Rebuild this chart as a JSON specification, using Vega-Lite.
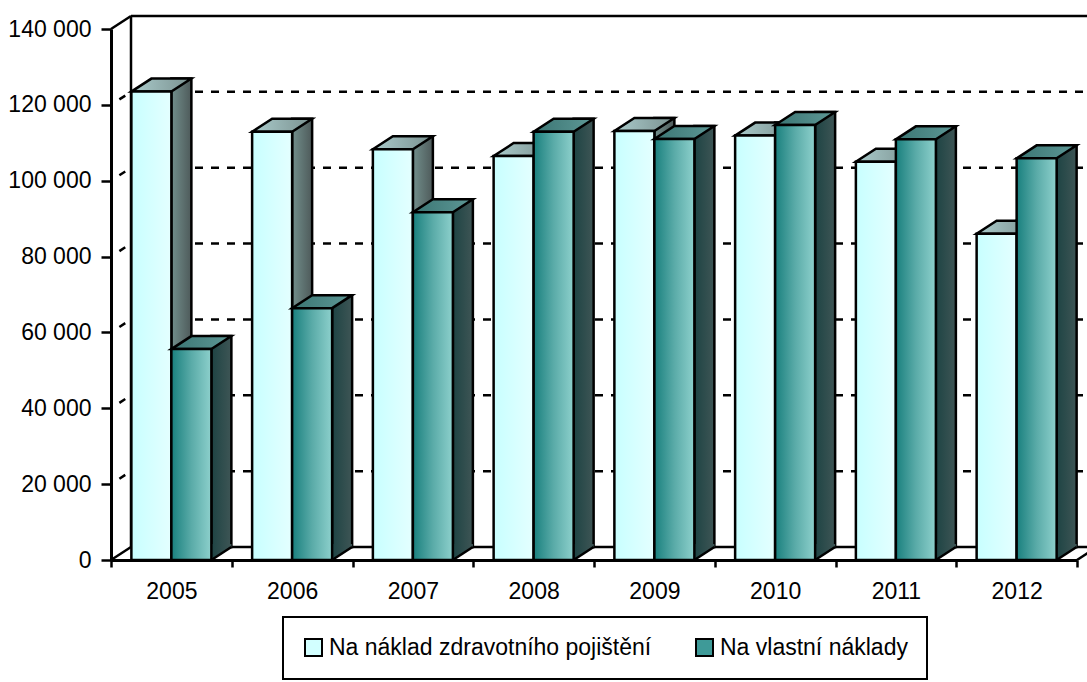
{
  "$schema": "https://vega.github.io/schema/vega-lite/v6.json",
  "width": 966,
  "height": 531,
  "autosize": {"type": "none"},
  "padding": {"left": 111, "top": 29, "right": 10, "bottom": 122},
  "background": "white",
  "datasets": {
    "bars": [
      {"year": "2005", "serie": "Na náklad zdravotního pojištění", "value": 123500},
      {"year": "2005", "serie": "Na vlastní náklady", "value": 55600},
      {"year": "2006", "serie": "Na náklad zdravotního pojištění", "value": 112900},
      {"year": "2006", "serie": "Na vlastní náklady", "value": 66400},
      {"year": "2007", "serie": "Na náklad zdravotního pojištění", "value": 108300},
      {"year": "2007", "serie": "Na vlastní náklady", "value": 91700},
      {"year": "2008", "serie": "Na náklad zdravotního pojištění", "value": 106500},
      {"year": "2008", "serie": "Na vlastní náklady", "value": 112900},
      {"year": "2009", "serie": "Na náklad zdravotního pojištění", "value": 113100},
      {"year": "2009", "serie": "Na vlastní náklady", "value": 111000},
      {"year": "2010", "serie": "Na náklad zdravotního pojištění", "value": 111900},
      {"year": "2010", "serie": "Na vlastní náklady", "value": 114700},
      {"year": "2011", "serie": "Na náklad zdravotního pojištění", "value": 105000},
      {"year": "2011", "serie": "Na vlastní náklady", "value": 110900},
      {"year": "2012", "serie": "Na náklad zdravotního pojištění", "value": 86000},
      {"year": "2012", "serie": "Na vlastní náklady", "value": 105900}
    ],
    "frame": [
      {"x0": 0, "x1": 0, "v0": 0, "v1": 140000},
      {"x0": 0, "x1": 1, "v0": 140000, "v1": 140000},
      {"x0": 0, "x1": 1, "v0": 0, "v1": 0}
    ],
    "grid": [
      {"x0": 0, "x1": 1, "v": 20000},
      {"x0": 0, "x1": 1, "v": 40000},
      {"x0": 0, "x1": 1, "v": 60000},
      {"x0": 0, "x1": 1, "v": 80000},
      {"x0": 0, "x1": 1, "v": 100000},
      {"x0": 0, "x1": 1, "v": 120000}
    ],
    "depth": [
      {"x": 0, "v": 0},
      {"x": 0, "v": 140000},
      {"x": 1, "v": 0}
    ],
    "walldash": [
      {"x": 0, "v": 20000},
      {"x": 0, "v": 40000},
      {"x": 0, "v": 60000},
      {"x": 0, "v": 80000},
      {"x": 0, "v": 100000},
      {"x": 0, "v": 120000}
    ]
  },
  "config": {
    "view": {"stroke": null},
    "font": "Liberation Sans",
    "axis": {
      "labelFont": "Liberation Sans",
      "labelFontSize": 23,
      "labelColor": "black",
      "domainColor": "black",
      "tickColor": "black",
      "domainWidth": 3,
      "tickWidth": 2.5,
      "grid": false,
      "zindex": 1
    },
    "axisY": {
      "labelExpr": "datum.value == 0 ? '0' : format(datum.value / 1000, 'd') + ' 000'",
      "tickSize": 10,
      "labelPadding": 10
    },
    "axisX": {
      "tickBand": "extent",
      "tickSize": 7,
      "labelPadding": 13,
      "labelAngle": 0
    },
    "legend": {
      "orient": "none",
      "legendX": 172,
      "legendY": 588,
      "direction": "horizontal",
      "symbolType": "square",
      "symbolSize": 289,
      "symbolStrokeColor": "black",
      "symbolStrokeWidth": 2,
      "symbolOpacity": 1,
      "labelFont": "Liberation Sans",
      "labelFontSize": 23,
      "labelColor": "black",
      "labelLimit": 0,
      "labelOffset": 4,
      "columnPadding": 40,
      "padding": 19,
      "strokeColor": "black",
      "strokeWidth": 2,
      "title": null
    }
  },
  "resolve": {"scale": {"x": "independent"}},
  "layer": [
    {
      "layer": [
        {
          "data": {"name": "grid"},
          "mark": {"type": "rule", "color": "black", "strokeWidth": 2.5, "strokeDash": [8, 8], "xOffset": 20, "x2Offset": 20, "yOffset": -13, "y2Offset": -13},
          "encoding": {
            "x": {"field": "x0", "type": "quantitative", "scale": {"domain": [0, 1], "nice": false, "zero": false}, "axis": null},
            "x2": {"field": "x1"},
            "y": {"field": "v", "type": "quantitative", "scale": {"domain": [0, 140000]}, "title": null, "axis": {"values": [0, 20000, 40000, 60000, 80000, 100000, 120000, 140000]}},
            "y2": {"field": "v"}
          }
        },
        {
          "data": {"name": "frame"},
          "mark": {"type": "rule", "color": "black", "strokeWidth": 2.5, "xOffset": 20, "x2Offset": 20, "yOffset": -13, "y2Offset": -13},
          "encoding": {
            "x": {"field": "x0", "type": "quantitative", "scale": {"domain": [0, 1], "nice": false, "zero": false}, "axis": null},
            "x2": {"field": "x1"},
            "y": {"field": "v0", "type": "quantitative", "scale": {"domain": [0, 140000]}, "title": null, "axis": {"values": [0, 20000, 40000, 60000, 80000, 100000, 120000, 140000]}},
            "y2": {"field": "v1"}
          }
        },
        {
          "data": {"name": "depth"},
          "mark": {"type": "rule", "color": "black", "strokeWidth": 2.5, "x2Offset": 20, "y2Offset": -13},
          "encoding": {
            "x": {"field": "x", "type": "quantitative", "scale": {"domain": [0, 1], "nice": false, "zero": false}, "axis": null},
            "x2": {"field": "x"},
            "y": {"field": "v", "type": "quantitative", "scale": {"domain": [0, 140000]}, "title": null, "axis": {"values": [0, 20000, 40000, 60000, 80000, 100000, 120000, 140000]}},
            "y2": {"field": "v"}
          }
        },
        {
          "data": {"name": "walldash"},
          "mark": {"type": "rule", "color": "black", "strokeWidth": 2.5, "strokeDash": [7, 40], "strokeDashOffset": -10, "x2Offset": 20, "y2Offset": -13},
          "encoding": {
            "x": {"field": "x", "type": "quantitative", "scale": {"domain": [0, 1], "nice": false, "zero": false}, "axis": null},
            "x2": {"field": "x"},
            "y": {"field": "v", "type": "quantitative", "scale": {"domain": [0, 140000]}, "title": null, "axis": {"values": [0, 20000, 40000, 60000, 80000, 100000, 120000, 140000]}},
            "y2": {"field": "v"}
          }
        }
      ]
    },
    {
      "data": {"name": "bars"},
      "encoding": {
        "x": {"field": "year", "type": "nominal", "title": null, "scale": {"paddingInner": 0, "paddingOuter": 0}},
        "y": {"field": "value", "type": "quantitative", "scale": {"domain": [0, 140000]}, "title": null, "axis": {"values": [0, 20000, 40000, 60000, 80000, 100000, 120000, 140000]}}
      },
      "layer": [
        {
          "mark": {"type": "point", "opacity": 0, "filled": true},
          "encoding": {
            "color": {"field": "serie", "type": "nominal", "sort": ["Na náklad zdravotního pojištění", "Na vlastní náklady"], "scale": {"range": ["#D2FFFF", "#3E9A98"]}, "legend": {"title": null}}
          }
        },
        {
          "transform": [{"filter": "datum.serie == 'Na náklad zdravotního pojištění'"}],
          "mark": {"type": "bar", "width": 20, "xOffset": 10, "yOffset": -13, "y2Offset": -13, "stroke": "black", "strokeWidth": 2.5,
            "fill": {"gradient": "linear", "x1": 0, "y1": 0, "x2": 1, "y2": 0, "stops": [{"offset": 0, "color": "#728F8C"}, {"offset": 1, "color": "#4E5A5A"}]}}
        },
        {
          "transform": [{"filter": "datum.serie == 'Na náklad zdravotního pojištění'"}],
          "mark": {"type": "point", "shape": "M1,0L2,-0.65L2,-0.8L1,-0.8Z", "size": 1600, "xOffset": -20, "filled": true, "opacity": 1, "strokeWidth": 0,
            "fill": {"gradient": "linear", "x1": 0, "y1": 0, "x2": 1, "y2": 0, "stops": [{"offset": 0, "color": "#728F8C"}, {"offset": 1, "color": "#4E5A5A"}]}},
          "encoding": {"y": {"datum": 0, "type": "quantitative"}}
        },
        {
          "transform": [{"filter": "datum.serie == 'Na náklad zdravotního pojištění'"}],
          "mark": {"type": "point", "shape": "M1,0L2,-0.65", "size": 1600, "xOffset": -20, "filled": false, "opacity": 1, "color": "black", "strokeWidth": 2.5},
          "encoding": {"y": {"datum": 0, "type": "quantitative"}}
        },
        {
          "transform": [{"filter": "datum.serie == 'Na náklad zdravotního pojištění'"}],
          "mark": {"type": "point", "shape": "M-1,0L1,0L2,-0.65L0,-0.65Z", "size": 1600, "xOffset": -20, "filled": true, "opacity": 1, "stroke": "black", "strokeWidth": 2.5, "strokeJoin": "miter",
            "fill": {"gradient": "linear", "x1": 0, "y1": 0, "x2": 1, "y2": 0, "stops": [{"offset": 0, "color": "#AACBCB"}, {"offset": 1, "color": "#7A9190"}]}}
        },
        {
          "transform": [{"filter": "datum.serie == 'Na náklad zdravotního pojištění'"}],
          "mark": {"type": "bar", "width": 40, "xOffset": -20, "stroke": "black", "strokeWidth": 2.5,
            "fill": {"gradient": "linear", "x1": 0, "y1": 0, "x2": 1, "y2": 0, "stops": [{"offset": 0, "color": "#C8FFFF"}, {"offset": 1, "color": "#E4FFFF"}]}}
        },
        {
          "transform": [{"filter": "datum.serie == 'Na vlastní náklady'"}],
          "mark": {"type": "bar", "width": 20, "xOffset": 50, "yOffset": -13, "y2Offset": -13, "stroke": "black", "strokeWidth": 2.5,
            "fill": {"gradient": "linear", "x1": 0, "y1": 0, "x2": 1, "y2": 0, "stops": [{"offset": 0, "color": "#1E4444"}, {"offset": 1, "color": "#3E5555"}]}}
        },
        {
          "transform": [{"filter": "datum.serie == 'Na vlastní náklady'"}],
          "mark": {"type": "point", "shape": "M1,0L2,-0.65L2,-0.8L1,-0.8Z", "size": 1600, "xOffset": 20, "filled": true, "opacity": 1, "strokeWidth": 0,
            "fill": {"gradient": "linear", "x1": 0, "y1": 0, "x2": 1, "y2": 0, "stops": [{"offset": 0, "color": "#1E4444"}, {"offset": 1, "color": "#3E5555"}]}},
          "encoding": {"y": {"datum": 0, "type": "quantitative"}}
        },
        {
          "transform": [{"filter": "datum.serie == 'Na vlastní náklady'"}],
          "mark": {"type": "point", "shape": "M1,0L2,-0.65", "size": 1600, "xOffset": 20, "filled": false, "opacity": 1, "color": "black", "strokeWidth": 2.5},
          "encoding": {"y": {"datum": 0, "type": "quantitative"}}
        },
        {
          "transform": [{"filter": "datum.serie == 'Na vlastní náklady'"}],
          "mark": {"type": "point", "shape": "M-1,0L1,0L2,-0.65L0,-0.65Z", "size": 1600, "xOffset": 20, "filled": true, "opacity": 1, "stroke": "black", "strokeWidth": 2.5, "strokeJoin": "miter",
            "fill": {"gradient": "linear", "x1": 0, "y1": 0, "x2": 1, "y2": 0, "stops": [{"offset": 0, "color": "#3A7573"}, {"offset": 1, "color": "#5E9896"}]}}
        },
        {
          "transform": [{"filter": "datum.serie == 'Na vlastní náklady'"}],
          "mark": {"type": "bar", "width": 40, "xOffset": 20, "stroke": "black", "strokeWidth": 2.5,
            "fill": {"gradient": "linear", "x1": 0, "y1": 0, "x2": 1, "y2": 0, "stops": [{"offset": 0, "color": "#19807E"}, {"offset": 0.5, "color": "#5AABA8"}, {"offset": 1, "color": "#8DD0CC"}]}}
        }
      ]
    }
  ]
}
